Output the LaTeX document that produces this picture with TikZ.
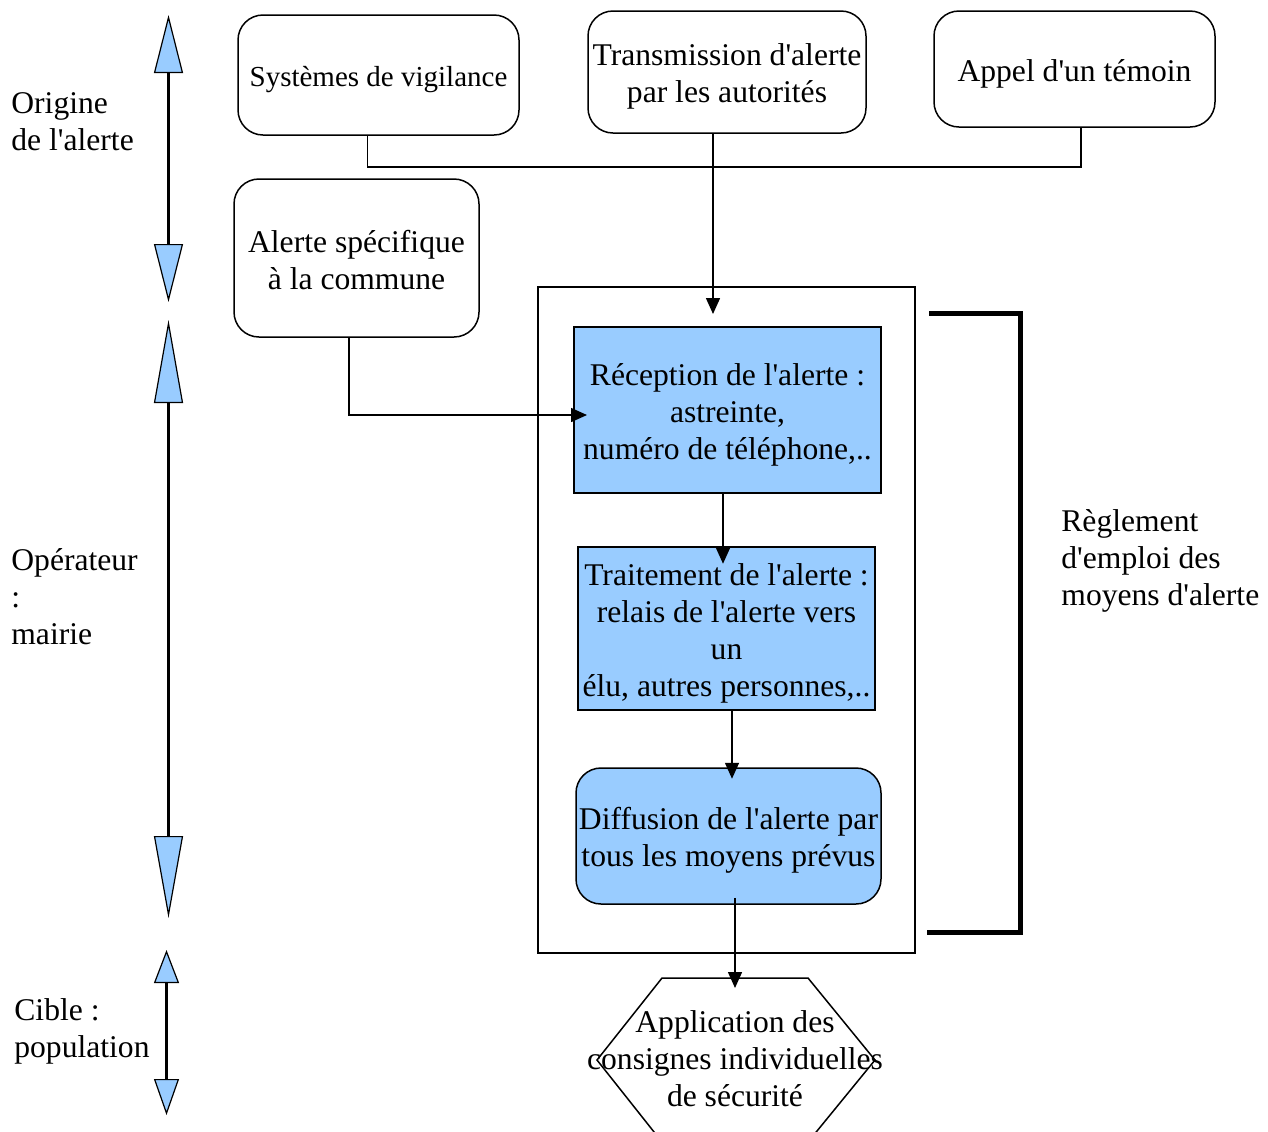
\documentclass[tikz,border=0pt]{standalone}
\usepackage{fontspec}
\setmainfont{Liberation Serif}[Ligatures=TeXOff]
\usepackage{xcolor}
\usepackage{tikz}
\usetikzlibrary{arrows.meta,calc,positioning}

\definecolor{alertblue}{HTML}{99CCFF}

\begin{document}
\begin{tikzpicture}[x=0.5pt, y=-0.5pt,
  every node/.style={font=\fontsize{15.8}{18.5}\selectfont},
  box/.style={draw, line width=0.75pt, rounded corners=12.5pt, align=center, inner sep=0pt},
  bluebox/.style={draw, line width=0.75pt, fill=alertblue, align=center, inner sep=0pt},
  txt/.style={align=center, inner sep=0pt, yshift=-2.25pt},
  arr/.style={line width=0.75pt, -{Triangle[length=8pt, width=7pt]}},
  link/.style={line width=0.75pt},
  sidetext/.style={anchor=west, align=left, inner sep=0pt}]
\useasboundingbox (0,0) rectangle (1268,1131);

% Side scale (phases)
\draw[line width=1.5pt, {Triangle[length=29pt, width=14.5pt, fill=alertblue, line width=0.6pt]}-{Triangle[length=29pt, width=14.5pt, fill=alertblue, line width=0.6pt]}] (168.5,15) -- (168.5,302);
\draw[line width=1.5pt, {Triangle[length=41.5pt, width=14.5pt, fill=alertblue, line width=0.6pt]}-{Triangle[length=41pt, width=14.5pt, fill=alertblue, line width=0.6pt]}] (168.5,320) -- (168.5,918);
\draw[line width=1.5pt, {Triangle[length=16.5pt, width=12.5pt, fill=alertblue, line width=0.6pt]}-{Triangle[length=18pt, width=12.5pt, fill=alertblue, line width=0.6pt]}] (166.5,950) -- (166.5,1115);

\node[sidetext] (origine) at (11,122) {Origine\\de l'alerte};
\node[sidetext] (operateur) at (11,597) {Opérateur\\:\\mairie};
\node[sidetext] (cible) at (14,1031) {Cible :\\population};

% Sources of the alert
\node[box, minimum width=140.5pt, minimum height=60pt,
  label={[txt, font=\fontsize{14.5}{17}\selectfont]center:Systèmes de vigilance}] (vigil) at (378.5,75) {};
\node[box, minimum width=139pt, minimum height=61pt,
  label={[txt]center:{Transmission d'alerte\\par les autorités}}] (trans) at (727,72) {};
\node[box, minimum width=140.5pt, minimum height=58pt,
  label={[txt]center:Appel d'un témoin}] (appel) at (1074.5,69) {};
\node[box, minimum width=122.5pt, minimum height=79pt,
  label={[txt, yshift=1.25pt]center:{Alerte spécifique\\à la commune}}] (commune) at (356.5,258) {};

% Frame round the municipal chain
\node[draw, line width=0.75pt, minimum width=188.5pt, minimum height=333pt] (cadre) at (726.5,620) {};

\node[bluebox, minimum width=153.5pt, minimum height=83pt,
  label={[txt]center:{Réception de l'alerte :\\astreinte,\\numéro de téléphone,..}}] (recep) at (727.5,410) {};
\node[bluebox, minimum width=148.5pt, minimum height=81.5pt,
  label={[txt]center:{Traitement de l'alerte :\\relais de l'alerte vers\\un\\élu, autres personnes,..}}] (trait) at (726.5,628.5) {};
\node[bluebox, rounded corners=12.5pt, minimum width=152.5pt, minimum height=68pt,
  label={[txt]center:{Diffusion de l'alerte par\\tous les moyens prévus}}] (diff) at (728.5,836) {};

% Hexagon (population)
\draw[line width=0.75pt] (662,978) -- (808,978) -- (875,1060) -- (808,1142) -- (662,1142) -- (597,1060) -- cycle;
\node[align=center, inner sep=0pt] (appli) at (735,1059) {Application des\\consignes individuelles\\de sécurité};

% Connectors
\coordinate (bus) at (0,167);
\coordinate (vj) at ([xshift=-5.5pt]vigil.south);
\coordinate (aj) at ([xshift=3.25pt]appel.south);
\draw[link] (vj) |- (aj |- bus) -- (aj);
\coordinate (tj) at ([xshift=-7pt]trans.south);
\coordinate (recin) at (713,314);
\draw[arr] (tj) -- (recin);
\coordinate (cj) at ([xshift=-3.75pt]commune.south);
\coordinate (recwest) at (587,415);
\draw[arr] (cj) |- (recwest);
\draw[arr] ([xshift=-2.25pt]recep.south) -- ++(0,70);
\draw[arr] ([xshift=2.75pt]trait.south) -- ++(0,68);
\coordinate (hextop) at (735,988);
\draw[arr] ([xshift=3.25pt, yshift=3.5pt]diff.south) -- (hextop);

% Bracket
\draw[line width=2.5pt] (929,313) -- (1020,313) -- (1020,932) -- (927,932);
\node[sidetext] (reglement) at (1061,561) {Règlement\\d'emploi des\\moyens d'alerte};
\end{tikzpicture}
\end{document}
